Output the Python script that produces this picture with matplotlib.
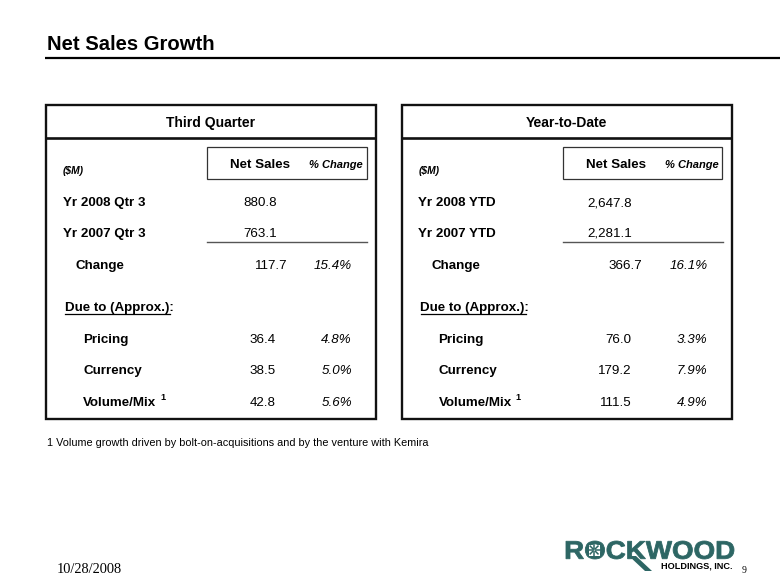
import math
import matplotlib
matplotlib.use("Agg")
import matplotlib.pyplot as plt
from matplotlib.patches import Rectangle, Polygon, PathPatch
from matplotlib.textpath import TextPath
from matplotlib.font_manager import FontProperties
from matplotlib.transforms import Affine2D

# ---- data ----
title = "Net Sales Growth"
panel_titles = ["Third Quarter", "Year-to-Date"]
q_labels = ["Yr 2008 Qtr 3", "Yr 2007 Qtr 3", "Change"]
q_net = [880.8, 763.1, 117.7]
q_pct = [None, None, 15.4]
ytd_labels = ["Yr 2008 YTD", "Yr 2007 YTD", "Change"]
ytd_net = [2647.8, 2281.1, 366.7]
ytd_pct = [None, None, 16.1]
due_labels = ["Pricing", "Currency", "Volume/Mix"]
q_due = [36.4, 38.5, 42.8]
q_due_pct = [4.8, 5.0, 5.6]
ytd_due = [76.0, 179.2, 111.5]
ytd_due_pct = [3.3, 7.9, 4.9]
footnote = "1 Volume growth driven by bolt-on-acquisitions and by the venture with Kemira"
date_text = "10/28/2008"
page_no = "9"
logo_main = "ROCKWOOD"
logo_sub = "HOLDINGS, INC."

FONT = "Liberation Sans"
plt.rcParams['font.family'] = [FONT, 'DejaVu Sans']

fig = plt.figure(figsize=(7.8, 5.85), dpi=100)
ax = fig.add_axes([0, 0, 1, 1])
ax.set_xlim(0, 780)
ax.set_ylim(585, 0)
ax.axis('off')

# title
ax.text(47, 50, title, fontsize=14.6, fontweight='bold', ha='left', va='baseline')
ax.plot([45, 780], [58, 58], color='black', lw=1.6, solid_capstyle='butt')


def fmt(v):
    return f"{v:,.1f}"


def panel(dx, ptitle, labels, net, pct, due, due_pct):
    L, R, T, B = 46 + dx, 376 + dx, 104.5, 419
    ax.add_patch(Rectangle((L, T), R - L, B - T, fill=False, ec='#111111', lw=1.7))
    ax.plot([L, R], [138, 138], color='#111111', lw=1.9, solid_capstyle='butt')
    ax.text((L + R) / 2, 127, ptitle, fontsize=10, fontweight='bold', ha='center', va='baseline')
    # inner header box
    ax.add_patch(Rectangle((207 + dx, 146.5), 159.5, 32.5, fill=False, ec='#333333', lw=0.9))
    ax.text(290 + dx, 168, "Net Sales", fontsize=9.6, fontweight='bold', ha='right', va='baseline')
    ax.text(363 + dx, 167.5, "% Change", fontsize=8, fontweight='bold', style='italic', ha='right', va='baseline')
    ax.text(63 + dx, 174, "($M)", fontsize=7.4, fontweight='bold', style='italic', ha='left', va='baseline')
    rows_y = [206, 237, 269]
    net_right = [277, 277, 287]
    label_x = [63, 63, 76]
    for lab, v, p, y, xr, lx in zip(labels, net, pct, rows_y, net_right, label_x):
        ax.text(lx + dx, y, lab, fontsize=9.6, fontweight='bold', ha='left', va='baseline')
        ax.text(xr + dx, y, fmt(v), fontsize=9.6, ha='right', va='baseline')
        if p is not None:
            ax.text(352 + dx, y, f"{p:.1f}%", fontsize=9.6, style='italic', ha='right', va='baseline')
    ax.plot([207 + dx, 367 + dx], [241.5, 241.5], color='#555555', lw=1.0)
    # due to
    ax.text(65 + dx, 311, "Due to (Approx.):", fontsize=9.6, fontweight='bold', ha='left', va='baseline')
    ax.plot([65 + dx, 170 + dx], [314, 314], color='black', lw=0.9)
    due_y = [343, 374, 406]
    for i, (lab, v, p, y) in enumerate(zip(due_labels, due, due_pct, due_y)):
        ax.text(83 + dx, y, lab, fontsize=9.6, fontweight='bold', ha='left', va='baseline')
        if i == 2:
            ax.text(160 + dx, y - 6, "1", fontsize=6.5, fontweight='bold', ha='left', va='baseline')
        ax.text(276 + dx, y, fmt(v), fontsize=9.6, ha='right', va='baseline')
        ax.text(352 + dx, y, f"{p:.1f}%", fontsize=9.6, style='italic', ha='right', va='baseline')


panel(0, panel_titles[0], q_labels, q_net, q_pct, q_due, q_due_pct)
panel(355.5, panel_titles[1], ytd_labels, ytd_net, ytd_pct, ytd_due, ytd_due_pct)

ax.text(47, 446, footnote, fontsize=7.8, ha='left', va='baseline')

# footer
ax.text(57, 573, date_text, fontsize=10.4, family='Liberation Serif', ha='left', va='baseline')
ax.text(742, 573, page_no, fontsize=7, family='Liberation Serif', ha='left', va='baseline')

# logo (stretched wide text)
teal = '#2d6664'
prop = FontProperties(family=FONT, weight='bold')
tp = TextPath((0, 0), logo_main, size=1, prop=prop)
bb = tp.get_extents()
x0, x1, capb, capt = 566, 734, 559, 541
sx = (x1 - x0) / bb.width
sy = (capb - capt) / bb.height
tr = Affine2D().translate(-bb.x0, -bb.y0).scale(sx, -sy).translate(x0, capb)
ax.add_patch(PathPatch(tr.transform_path(tp), color=teal, lw=0.6))
# star inside the O
wR = TextPath((0, 0), "R", size=1, prop=prop).get_extents()
wRO = TextPath((0, 0), "RO", size=1, prop=prop).get_extents()
ocx = x0 + ((wR.x1 + wRO.x1) / 2 - bb.x0) * sx
ocy = (capb + capt) / 2
ax.add_patch(Rectangle((ocx - 5.5, ocy - 5.5), 11, 11, color='white', lw=0))
for k in range(8):
    a = k * math.pi / 4
    ax.plot([ocx + 1.5 * math.cos(a), ocx + 5.5 * math.cos(a)],
            [ocy + 1.5 * math.sin(a), ocy + 5.5 * math.sin(a)], color=teal, lw=1.1)
ax.add_patch(Polygon([[629, 556], [636, 556], [652, 571], [645, 571]], closed=True, color=teal, lw=0))
ax.text(733, 569, logo_sub, fontsize=6.6, fontweight='bold', color='black', ha='right', va='baseline')

fig.savefig("out.png", dpi=100)
